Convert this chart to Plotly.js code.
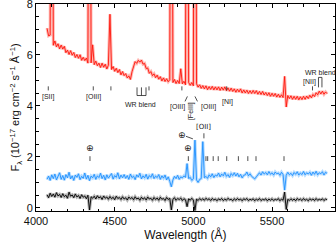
<!DOCTYPE html>
<html><head><meta charset="utf-8">
<script src="https://cdn.plot.ly/plotly-3.0.1.min.js"></script>
<style>html,body{margin:0;padding:0;background:#fff}#c{width:336px;height:244px}</style>
</head><body><div id="c"></div><script>
// sampling of the spectra (Angstrom)
const waveStart = 4070;
const waveStep = 10;

// upper (red) spectrum, 4070..5850
const redFlux = [
7.05,6.75,6.78,30,6.38,6.55,6.32,6.44,6.24,6.39,
6.23,6.34,6.09,6.19,6.02,6.17,5.99,6.10,5.90,6.02,
5.87,6.01,5.79,5.91,5.78,5.88,5.68,30,5.69,6.40,
5.62,5.76,5.58,5.68,5.51,5.68,5.52,5.64,5.45,5.60,
7.60,5.43,5.55,5.36,5.48,5.31,5.43,5.22,5.35,5.19,
5.27,5.10,5.18,5.04,5.34,5.52,5.74,5.67,5.79,5.72,
5.80,5.64,5.67,5.47,5.49,5.28,5.35,5.19,5.26,5.11,
5.21,5.05,5.15,4.98,5.10,4.96,5.07,4.95,5.03,30,
4.92,5.04,4.88,5.00,4.88,5.46,4.87,4.97,4.83,30,
4.92,4.81,4.92,4.79,30,4.87,4.74,4.83,4.69,4.80,
4.67,4.79,4.64,4.76,4.65,4.77,4.63,4.75,4.63,4.75,
4.61,4.74,4.62,4.75,4.60,4.71,4.58,4.70,4.57,4.67,
4.54,4.66,4.55,4.67,4.51,4.63,4.51,4.62,4.49,4.60,
4.49,4.61,4.49,4.60,4.46,4.57,4.45,4.57,4.43,4.53,
4.41,4.52,4.38,4.50,4.38,4.49,4.35,4.46,4.34,4.44,
4.33,5.16,3.96,4.41,4.29,4.40,4.26,4.38,4.26,4.38,
4.24,4.36,4.25,4.38,4.26,4.39,4.29,4.42,4.32,4.45,
4.37,4.52,4.44,4.58,4.47,4.58,4.46,4.55,4.48
];

// middle (blue) spectrum
const blueFlux = [
1.12,1.25,1.08,1.30,1.15,1.33,1.10,1.22,1.38,1.12,
1.27,1.09,1.31,1.18,1.40,1.14,1.26,1.08,1.29,1.20,
1.34,1.11,1.24,1.16,1.37,1.13,1.28,1.07,1.25,1.18,
1.32,1.12,1.26,1.19,1.36,1.15,1.28,1.10,1.30,1.17,
1.24,1.35,1.13,1.27,1.20,1.38,1.14,1.29,1.18,1.31,
1.16,1.27,1.12,1.33,1.19,1.25,1.11,1.30,1.21,1.36,
1.14,1.26,1.18,1.32,1.13,1.27,1.20,1.34,1.15,1.25,
1.19,1.31,1.12,1.26,1.17,1.29,1.10,1.22,1.05,0.83,
1.10,1.24,1.15,1.28,1.12,1.22,1.18,1.26,1.20,1.74,
1.15,1.20,1.08,1.14,2.66,1.10,1.00,1.12,1.15,2.60,
1.18,1.24,1.16,1.30,1.22,1.34,1.19,1.29,1.25,1.37,
1.22,1.33,1.26,1.40,1.24,1.31,1.20,1.35,1.27,1.38,
1.25,1.36,1.22,1.32,1.18,1.28,1.30,1.41,1.26,1.34,
1.24,1.18,1.14,1.22,1.30,1.38,1.29,1.42,1.33,1.39,
1.30,1.43,1.32,1.38,1.29,1.41,1.34,1.37,1.28,1.40,
1.31,0.70,1.28,1.40,1.30,1.36,1.27,1.39,1.32,1.42,
1.29,1.37,1.31,1.43,1.30,1.38,1.33,1.40,1.28,1.41,
1.32,1.44,1.30,1.38,1.34,1.42,1.29,1.40,1.35
];

// lower (black) spectrum
const blackFlux = [
0.52,0.40,0.58,0.45,0.55,0.42,0.60,0.47,0.53,0.41,
0.56,0.44,0.50,0.38,0.62,0.46,0.51,0.40,0.55,0.43,
0.49,0.37,0.52,0.42,0.47,0.36,0.50,-0.08,0.44,0.38,
0.46,0.35,0.48,0.39,0.44,0.33,0.47,0.38,0.43,0.34,
0.45,0.36,0.42,0.32,0.46,0.37,0.41,0.33,0.44,0.35,
0.40,0.31,0.43,0.36,0.41,0.32,0.44,0.35,0.39,0.30,
0.42,0.34,0.40,0.31,0.43,0.35,0.38,0.30,0.41,0.33,
0.39,0.30,0.42,0.34,0.37,0.29,0.41,0.33,0.38,-0.08,
0.34,0.40,0.30,0.37,0.33,0.39,0.29,0.36,0.32,0.05,
0.36,0.30,0.38,0.31,-0.10,0.35,0.29,0.37,0.31,0.36,
0.30,0.38,0.32,0.36,0.29,0.37,0.31,0.35,0.28,0.36,
0.31,0.37,0.29,0.35,0.30,0.38,0.32,0.34,0.28,0.36,
0.30,0.37,0.31,0.35,0.28,0.36,0.32,0.37,0.29,0.34,
0.31,0.36,0.28,0.35,0.30,0.37,0.29,0.34,0.31,0.36,
0.28,0.35,0.30,0.36,0.29,0.34,0.31,0.37,0.28,0.35,
0.30,0.62,-0.06,0.34,0.29,0.36,0.30,0.35,0.28,0.37,
0.31,0.35,0.29,0.37,0.30,0.34,0.28,0.36,0.31,0.35,
0.29,0.37,0.30,0.34,0.31,0.36,0.29,0.35,0.32
];

// line identifications on the upper spectrum
const redLabelText = ['[SII]','[OIII]','WR blend','[OIII]','[FeIII]','[OIII]','[NI]','[NII]','WR blend'];
const redLabelWave = [4080, 4363, 4667, 4896, 4985, 5093, 5220, 5741, 5805];
const redLabelFlux = [4.34, 4.34, 4.06, 3.95, 3.80, 3.95, 4.15, 4.96, 5.31];
const redTickWave = [4078, 4364, 4476, 4718, 4927, 5212, 5757];

// marks on the middle spectrum
const blueLabelText = ['\u2295', '\u2295', '\u2295', '[OII]'];
const blueLabelWave = [4343, 4926, 4968, 5067];
const blueLabelFlux = [2.34, 2.85, 2.34, 3.16];
const blueTickWave = [4343, 4968, 5080, 5091, 5126, 5158, 5212, 5286, 5346, 5398, 5576];

const wave = redFlux.map((_, i) => waveStart + i * waveStep);

function spec(y, main, halo) {
  return [
    {x: wave, y: y, type: 'scatter', mode: 'lines', line: {color: halo, width: 3}, hoverinfo: 'skip', showlegend: false},
    {x: wave, y: y, type: 'scatter', mode: 'lines', line: {color: main, width: 0.9}, showlegend: false}
  ];
}
const data = [].concat(
  spec(blackFlux, '#000000', 'rgba(90,90,90,0.45)'),
  spec(blueFlux, 'rgb(30,144,255)', 'rgba(110,185,255,0.5)'),
  spec(redFlux, 'rgb(255,20,10)', 'rgba(255,95,85,0.45)')
);

const annFont = {family: 'Liberation Sans, Arial, sans-serif', size: 7, color: '#222'};
const annotations = [];
redLabelText.forEach((t, i) => annotations.push({
  x: redLabelWave[i], y: redLabelFlux[i], xref: 'x', yref: 'y', text: t, showarrow: false,
  font: annFont, textangle: t === '[FeIII]' ? -90 : 0
}));
blueLabelText.forEach((t, i) => annotations.push({
  x: blueLabelWave[i], y: blueLabelFlux[i], xref: 'x', yref: 'y', text: t, showarrow: false,
  font: {family: 'DejaVu Sans, sans-serif', size: t === '[OII]' ? 7 : 9, color: '#222'}
}));

const lc = {color: '#222', width: 0.8};
const shapes = [];
redTickWave.forEach(w => shapes.push({type: 'line', xref: 'x', yref: 'y', x0: w, x1: w, y0: 4.61, y1: 4.77, line: lc}));
blueTickWave.forEach(w => shapes.push({type: 'line', xref: 'x', yref: 'y', x0: w, x1: w, y0: 1.84, y1: 2.03, line: lc}));
// [OII] tick
shapes.push({type: 'line', xref: 'x', yref: 'y', x0: 5067, x1: 5067, y0: 2.73, y1: 2.93, line: lc});
// leader from sky symbol
shapes.push({type: 'line', xref: 'x', yref: 'y', x0: 4953, x1: 4997, y0: 2.81, y1: 2.71, line: lc});
// [OIII] leaders
shapes.push({type: 'line', xref: 'x', yref: 'y', x0: 4947, x1: 4962, y0: 4.18, y1: 4.375, line: lc});
shapes.push({type: 'line', xref: 'x', yref: 'y', x0: 5010, x1: 5026, y0: 4.375, y1: 4.18, line: lc});
// WR blend bracket (left)
[4642, 4670, 4699].forEach(w => shapes.push({type: 'line', xref: 'x', yref: 'y', x0: w, x1: w, y0: 4.41, y1: 4.73, line: lc}));
shapes.push({type: 'line', xref: 'x', yref: 'y', x0: 4642, x1: 4699, y0: 4.41, y1: 4.41, line: lc});
// WR blend bracket (right)
[5795, 5817].forEach(w => shapes.push({type: 'line', xref: 'x', yref: 'y', x0: w, x1: w, y0: 4.73, y1: 5.12, line: lc}));
shapes.push({type: 'line', xref: 'x', yref: 'y', x0: 5795, x1: 5817, y0: 5.12, y1: 5.12, line: lc});

const axisFont = {family: 'Liberation Sans, Arial, sans-serif', size: 11, color: '#111'};
const layout = {
  width: 336, height: 244,
  margin: {l: 36, r: 1, t: 4, b: 33},
  paper_bgcolor: '#fff', plot_bgcolor: '#fff',
  showlegend: false,
  xaxis: {
    range: [4000, 5900], tickvals: [4000, 4500, 5000, 5500], ticks: 'inside', ticklen: 4, tickcolor: '#000',
    minor: {dtick: 100, tick0: 4000, ticks: 'inside', ticklen: 2.5, tickcolor: '#000'},
    showline: true, linecolor: '#000', linewidth: 1, mirror: 'allticks', showgrid: false, zeroline: false,
    tickfont: axisFont, ticklabeloverflow: 'allow',
    title: {text: 'Wavelength (Å)', font: {family: 'Liberation Sans, Arial, sans-serif', size: 12, color: '#111'}, standoff: 2}
  },
  yaxis: {
    range: [-0.12, 8], tickvals: [0, 2, 4, 6, 8], ticks: 'inside', ticklen: 4, tickcolor: '#000',
    minor: {dtick: 0.5, tick0: 0, ticks: 'inside', ticklen: 2.5, tickcolor: '#000'},
    showline: true, linecolor: '#000', linewidth: 1, mirror: 'allticks', showgrid: false, zeroline: false,
    tickfont: axisFont, ticklabeloverflow: 'allow',
    title: {text: 'F<sub>λ</sub> (10<sup>−17</sup> erg cm<sup>−2</sup> s<sup>−1</sup> Å<sup>−1</sup>)', font: {family: 'Liberation Sans, Arial, sans-serif', size: 11, color: '#111'}, standoff: 4}
  },
  annotations: annotations,
  shapes: shapes
};
Plotly.newPlot('c', data, layout, {staticPlot: true, displayModeBar: false});
</script></body></html>
